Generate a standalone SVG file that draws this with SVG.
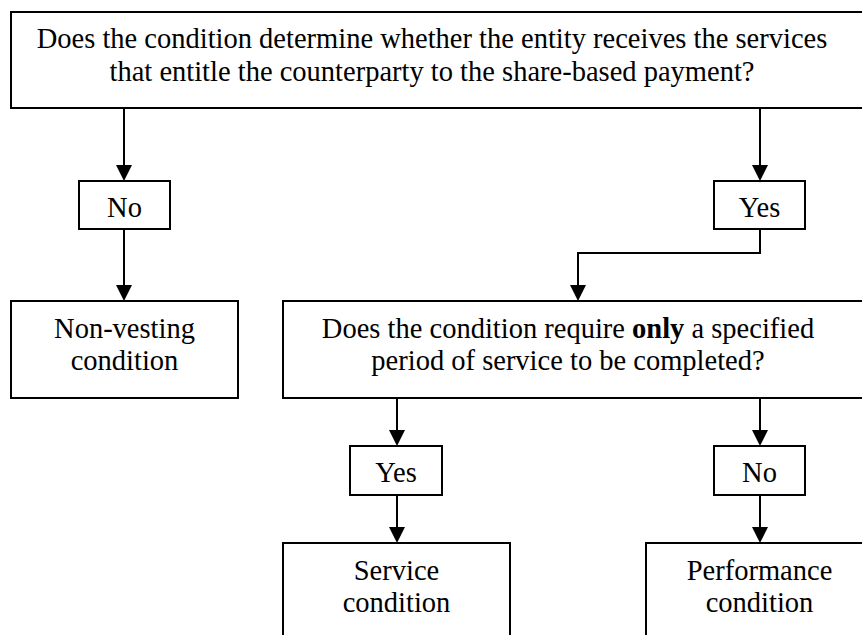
<svg xmlns="http://www.w3.org/2000/svg" width="862" height="635" viewBox="0 0 862 635">
<defs>
<style>
.box{fill:#fff;stroke:#000;stroke-width:2}
.t{font-family:'Liberation Serif','DejaVu Serif',serif;font-size:28.5px;fill:#000;text-anchor:middle}
.l{font-family:'Liberation Serif','DejaVu Serif',serif;font-size:28.5px;fill:#000;text-anchor:middle}
.c{fill:none;stroke:#000;stroke-width:2}
</style>
</defs>
<rect width="862" height="635" fill="#fff"/>
<g id="connectors">
<path class="c" d="M124,108 V165"/>
<path class="c" d="M124,229 V285"/>
<path class="c" d="M760,108 V165"/>
<path class="c" d="M760,229 V253 H578 V285"/>
<path class="c" d="M397,398 V430"/>
<path class="c" d="M397,495 V527"/>
<path class="c" d="M760,398 V430"/>
<path class="c" d="M760,495 V527"/>
<g fill="#000">
<path d="M116,165 L132,165 L124,181 Z"/>
<path d="M116,285 L132,285 L124,301 Z"/>
<path d="M752,165 L768,165 L760,181 Z"/>
<path d="M570,285 L586,285 L578,301 Z"/>
<path d="M389,430 L405,430 L397,446 Z"/>
<path d="M389,527 L405,527 L397,543 Z"/>
<path d="M752,430 L768,430 L760,446 Z"/>
<path d="M752,527 L768,527 L760,543 Z"/>
</g>
</g>
<g id="q1">
<rect class="box" x="11" y="12" width="870" height="96"/>
<text class="t" x="432" y="48">Does the condition determine whether the entity receives the services</text>
<text class="t" x="432" y="81">that entitle the counterparty to the share-based payment?</text>
</g>
<g id="no1">
<rect class="box" x="79" y="181" width="91" height="48"/>
<text class="l" x="124.5" y="217">No</text>
</g>
<g id="yes1">
<rect class="box" x="714" y="181" width="91" height="48"/>
<text class="l" x="759.5" y="217">Yes</text>
</g>
<g id="nonvesting">
<rect class="box" x="11" y="301" width="227" height="97"/>
<text class="t" x="124.5" y="338">Non-vesting</text>
<text class="t" x="124.5" y="370">condition</text>
</g>
<g id="q2">
<rect class="box" x="283" y="301" width="600" height="97"/>
<text class="t" x="568" y="338">Does the condition require <tspan font-weight="bold">only</tspan> a specified</text>
<text class="t" x="568" y="370">period of service to be completed?</text>
</g>
<g id="yes2">
<rect class="box" x="350" y="446" width="92" height="49"/>
<text class="l" x="396" y="482">Yes</text>
</g>
<g id="no2">
<rect class="box" x="714" y="446" width="91" height="49"/>
<text class="l" x="759.5" y="482">No</text>
</g>
<g id="service">
<rect class="box" x="283" y="543" width="227" height="110"/>
<text class="t" x="396.5" y="580">Service</text>
<text class="t" x="396.5" y="612">condition</text>
</g>
<g id="performance">
<rect class="box" x="646" y="543" width="227" height="110"/>
<text class="t" x="759.5" y="580">Performance</text>
<text class="t" x="759.5" y="612">condition</text>
</g>
</svg>
